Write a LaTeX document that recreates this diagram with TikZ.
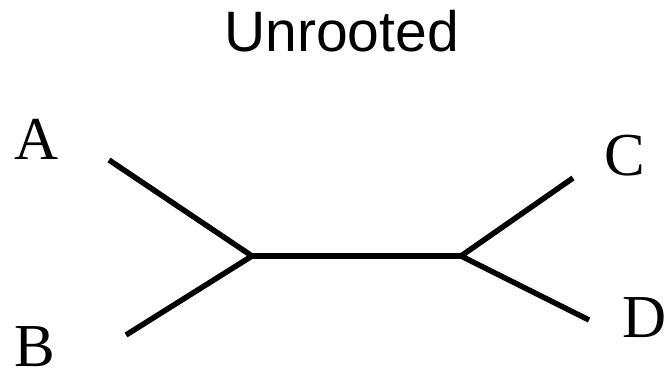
\documentclass[tikz,border=0pt]{standalone}
\usepackage{fontspec}
\setmainfont{Liberation Serif}
\newfontfamily\titlefont{Liberation Sans}
\begin{document}
\begin{tikzpicture}[x=1pt,y=-1pt,
  branch/.style={line width=5.5pt,line cap=butt},
  leaf/.style={anchor=base,inner sep=0pt,font=\fontsize{61}{61}\selectfont},
  heading/.style={anchor=base,inner sep=0pt,font=\titlefont\fontsize{57}{57}\selectfont}]
  \useasboundingbox (0,0) rectangle (667,374);
  % title
  \node[heading] (title) at (341.5,52) {Unrooted};
  % leaf labels
  \node[leaf] (A) at (36.5,160) {A};
  \node[leaf] (B) at (34.5,366) {B};
  \node[leaf] (C) at (625,176) {C};
  \node[leaf] (D) at (645,337) {D};
  % tree skeleton
  \coordinate (u) at (252,256);
  \coordinate (v) at (461,256);
  \coordinate (a) at (109,160);
  \coordinate (b) at (126,335);
  \coordinate (c) at (573,178);
  \coordinate (d) at (589,320);
  \draw[branch] (a) -- (u) -- (b);
  \draw[branch] (c) -- (v) -- (d);
  \draw[branch] (u) -- (v);
\end{tikzpicture}
\end{document}
